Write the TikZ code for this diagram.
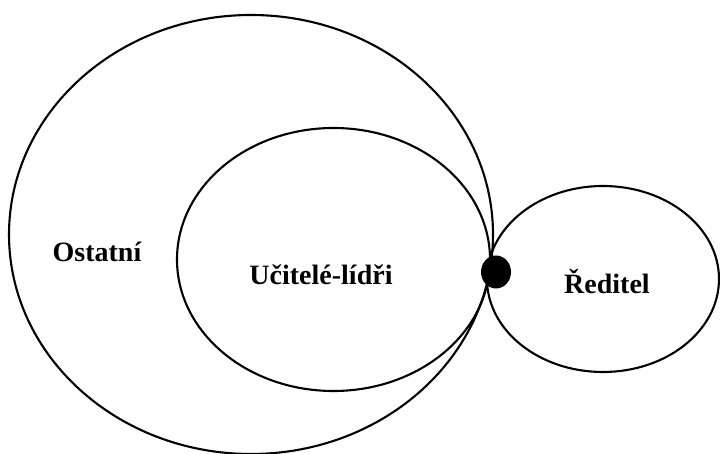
\documentclass[tikz,border=0pt]{standalone}
\usepackage{fontspec}
\setmainfont{Liberation Serif}
\usetikzlibrary{shapes.geometric}
\begin{document}
\begin{tikzpicture}[x=1pt,y=1pt,
  ring/.style={draw=black,line width=2.1pt,shape=ellipse,inner sep=0pt,outer sep=0pt},
  label/.style={anchor=base,inner sep=0pt,font=\fontsize{28}{30}\selectfont\bfseries}]
  \useasboundingbox (0,0) rectangle (720,454);
  % nested groups
  \node[ring,minimum width=484,minimum height=439] (ostatni) at (251,219.5) {};
  \node[ring,minimum width=313,minimum height=263] (ucitele) at (333.5,194.5) {};
  \node[ring,minimum width=232,minimum height=186] (reditel) at (603,175) {};
  % touching point
  \node[shape=ellipse,fill=black,inner sep=0pt,minimum width=30,minimum height=33] (bod) at (496,182) {};
  % labels
  \node[label] (tOstatni) at (97,192.3) {Ostatní};
  \node[label] (tUcitele) at (321,169) {Učitelé-lídři};
  \node[label] (tReditel) at (607,160.7) {Ředitel};
\end{tikzpicture}
\end{document}
